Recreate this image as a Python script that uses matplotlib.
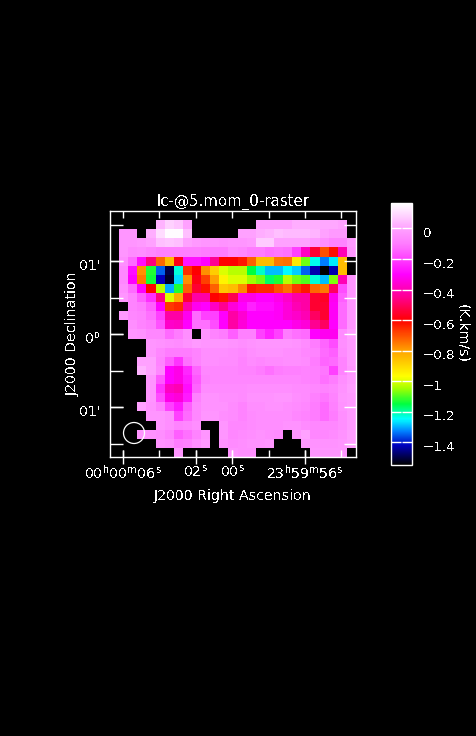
import numpy as np
import matplotlib
matplotlib.use("Agg")
import matplotlib.pyplot as plt
from matplotlib.colors import LinearSegmentedColormap
from matplotlib.patches import Ellipse
from matplotlib.transforms import ScaledTranslation

n = np.nan
row00 = [n]*27
row01 = [n,n,n,n,n,.03,.08,.06,0,n,n,n,n,n,n,n,0,0,0,0,.02,.02,.02,.01,.01,.0,n]
row02 = [n,-.03,-.03,n,.02,.1,.16,.16,.05,n,n,n,n,n,0,0,.02,.03,.05,.04,.04,.04,.03,0,-.02,-.02,n]
row03 = [n,-.03,-.03,-.02,0,.05,.06,.05,0,-.02,-.03,-.03,-.04,-.03,-.03,-.02,.07,.07,0,0,0,0,-.02,-.05,-.08,-.08,-.02]
row04 = [n,-.03,-.06,-.05,-.07,-.09,-.09,-.09,-.09,-.09,-.1,-.1,-.1,-.06,-.07,-.1,-.1,-.12,-.11,-.12,-.2,-.38,-.55,-.7,-.62,-.4,-.03]
row05 = [n,-.05,-.13,-.28,-.47,-.73,-.85,-.58,-.27,-.27,-.3,-.45,-.6,-.6,-.63,-.72,-.85,-.85,-.75,-.74,-.93,-1.08,-1.24,-1.33,-1.26,-.85,n]
row06 = [n,-.07,-.28,-.78,-1.13,-1.35,-1.5,-1.23,-.66,-.6,-.78,-.88,-1.0,-1.03,-1.03,-1.15,-1.22,-1.29,-1.29,-1.25,-1.28,-1.35,-1.43,-1.55,-1.43,-.85,n]
row07 = [n,-.07,-.3,-.75,-1.14,-1.42,-1.52,-1.27,-.78,-.58,-.68,-.8,-.95,-1.0,-1.0,-1.05,-1.08,-1.17,-1.13,-1.03,-1.08,-1.1,-1.23,-1.29,-1.07,-.4,-.03]
row08 = [n,-.05,-.13,-.3,-.6,-1.03,-1.3,-1.13,-.72,-.55,-.62,-.72,-.87,-.85,-.77,-.63,-.65,-.65,-.7,-.74,-.67,-.63,-.73,-.75,-.5,-.18,-.03]
row09 = [n,-.03,-.08,-.15,-.23,-.47,-1.0,-.82,-.55,-.42,-.42,-.6,-.62,-.52,-.33,-.33,-.3,-.3,-.33,-.37,-.42,-.42,-.55,-.56,-.32,-.15,-.03]
row10 = [n,n,-.08,-.1,-.15,-.3,-.67,-.65,-.42,-.32,-.3,-.38,-.45,-.35,-.3,-.25,-.28,-.28,-.31,-.35,-.4,-.42,-.55,-.55,-.31,-.13,-.03]
row11 = [n,-.02,-.07,-.08,-.12,-.2,-.42,-.42,-.32,-.13,-.2,-.2,-.3,-.42,-.36,-.3,-.3,-.3,-.31,-.35,-.37,-.4,-.5,-.55,-.31,-.13,-.03]
row12 = [n,n,-.05,-.08,-.1,-.17,-.37,-.38,-.3,-.12,-.12,-.18,-.3,-.42,-.35,-.3,-.3,-.3,-.3,-.3,-.33,-.35,-.45,-.5,-.3,-.13,-.03]
row13 = [n,n,-.03,-.04,-.07,-.07,-.13,-.1,-.05,n,-.03,-.08,-.1,-.15,-.09,-.09,-.2,-.25,-.2,-.1,-.12,-.13,-.3,-.32,-.32,-.06,-.01]
row14 = [n,n,n,n,-.03,-.04,-.05,-.06,-.04,-.02,-.03,-.03,-.03,-.04,-.05,-.04,-.03,-.03,-.03,-.03,-.04,-.06,-.1,-.14,-.18,-.05,-.02]
row15 = [n,n,n,n,-.03,-.07,-.1,-.1,-.1,-.08,-.05,-.05,-.05,-.06,-.07,-.05,-.04,-.04,-.04,-.05,-.05,-.07,-.08,-.13,-.15,-.06,-.02]
row16 = [n,n,n,0,0,-.08,-.15,-.22,-.12,-.08,-.05,-.05,-.06,-.06,-.08,-.06,-.07,-.06,-.06,-.05,-.05,-.06,-.1,-.14,-.13,-.08,-.02]
row17 = [n,n,n,.03,0,-.07,-.3,-.33,-.24,-.14,-.07,-.07,-.07,-.07,-.08,-.08,-.1,-.12,-.1,-.09,-.09,-.08,-.09,-.11,-.2,-.08,-.03]
row18 = [n,n,n,n,-.03,-.16,-.3,-.33,-.26,-.16,-.08,-.07,-.07,-.07,-.07,-.07,-.07,-.07,-.07,-.07,-.07,-.08,-.09,-.12,-.1,-.05,-.02]
row19 = [n,n,n,n,-.03,-.22,-.38,-.4,-.28,-.14,-.06,-.06,-.06,-.06,-.06,-.05,-.05,-.05,-.05,-.05,-.06,-.06,-.07,-.08,-.07,-.04,-.01]
row20 = [n,n,n,n,-.03,-.18,-.33,-.35,-.26,-.09,-.04,-.04,-.05,-.05,-.06,-.04,-.04,-.04,-.03,-.03,-.05,-.06,-.09,-.11,-.08,-.03,-.02]
row21 = [n,n,n,0,-.04,-.09,-.2,-.26,-.15,-.07,-.04,-.04,-.04,-.06,-.08,-.05,-.05,-.04,-.04,-.05,-.06,-.07,-.1,-.13,-.09,-.04,-.02]
row22 = [n,n,n,n,-.03,-.03,-.05,-.2,-.13,-.07,-.03,-.03,-.05,-.06,-.08,-.06,-.05,-.05,-.05,-.05,-.07,-.08,-.1,-.13,-.1,-.05,-.02]
row23 = [n,n,n,n,n,-.03,-.05,-.08,-.07,-.05,n,n,-.03,-.07,-.07,-.06,-.05,-.05,-.05,-.04,-.04,-.06,-.07,-.07,-.07,-.05,-.02]
row24 = [n,n,n,-.03,-.04,-.05,-.08,-.15,-.12,-.08,-.03,n,-.03,-.07,-.06,-.05,-.04,-.05,-.06,n,-.03,0,-.07,-.07,-.06,-.04,-.01]
row25 = [n,n,n,n,n,-.04,-.05,-.1,-.09,-.05,-.02,n,-.04,-.06,-.05,-.04,-.04,-.03,n,n,n,-.02,-.04,-.04,-.04,-.03,-.01]
row26 = [n,n,n,n,n,n,n,-.03,n,n,n,n,n,-.04,-.05,-.05,n,n,n,n,n,n,-.03,-.03,-.03,-.03,n]
rows = [row00,row01,row02,row03,row04,row05,row06,row07,row08,row09,row10,row11,row12,row13,
        row14,row15,row16,row17,row18,row19,row20,row21,row22,row23,row24,row25,row26]

cmap_values = [-1.55,-1.42,-1.33,-1.25,-1.15,-1.05,-0.97,-0.8,-0.6,-0.45,-0.3,-0.2,-0.1,0.0,0.08,0.17]
cmap_colors = ["#000000","#0000c0","#0080ff","#00ffff","#00ff40","#a0ff00","#ffff00","#ffa000","#ff0000",
               "#ff0090","#ff00ff","#ff40ff","#ff7cff","#ffa0ff","#ffd0ff","#ffffff"]
vmin, vmax = -1.55, 0.167

xtick_major = [6, 2, 0, -4]
xtick_labels = ["00$^{h}$00$^{m}$06$^{s}$", "02$^{s}$", "00$^{s}$", "23$^{h}$59$^{m}$56$^{s}$"]
xtick_all = [6, 4, 2, 0, -2, -4, -6]
ytick_all = [1.5, 1, .5, 0, -.5, -1, -1.5]
ytick_major = [1, 0, -1]
ytick_labels = ["01'", "0$^{o}$", "01'"]
cb_ticks = [0, -.2, -.4, -.6, -.8, -1, -1.2, -1.4]
cb_labels = ["0", "\u22120.2", "\u22120.4", "\u22120.6", "\u22120.8", "\u22121", "\u22121.2", "\u22121.4"]

W, H = 476, 736
plt.rcParams.update({"font.family": "DejaVu Sans", "mathtext.default": "regular",
                     "text.color": "white", "text.antialiased": False})
fig = plt.figure(figsize=(W/100, H/100), dpi=100, facecolor="black")
def axpx(l, t, r, b):
    return fig.add_axes([l/W, 1-b/H, (r-l)/W, (b-t)/H], facecolor="black")

ax = axpx(110, 211, 356, 457)
stops = [(v-vmin)/(vmax-vmin) for v in cmap_values]
stops[0], stops[-1] = 0, 1
cmap = LinearSegmentedColormap.from_list("aips", list(zip(stops, cmap_colors)), N=512)
cmap.set_bad("black")
data = np.array(rows, dtype=float)
xl, xr = 6+13/18.2, 6-(356-123)/18.2
yt, yb = 123/73, -123/73
im = ax.imshow(data, cmap=cmap, vmin=vmin, vmax=vmax, extent=[xl, xr, yb, yt], aspect="auto", interpolation="nearest")
ax.set_xlim(xl, xr); ax.set_ylim(yb, yt)
for s in ax.spines.values():
    s.set_color("white"); s.set_linewidth(1)
ax.xaxis.remove_overlapping_locs = False
ax.yaxis.remove_overlapping_locs = False
ax.set_xticks(xtick_all, [""]*len(xtick_all))
ax.set_yticks(ytick_all, [""]*len(ytick_all))
ax.tick_params(axis="x", which="major", direction="in", colors="white", width=1, length=5, top=True)
ax.tick_params(axis="y", which="major", direction="in", colors="white", width=1, length=9, right=True)
ax.set_xticks(xtick_major, xtick_labels, minor=True)
ax.set_yticks(ytick_major, ytick_labels, minor=True)
ax.tick_params(axis="x", which="minor", direction="inout", length=10, width=1, colors="white", top=False, labelsize=10.2, pad=0)
ax.tick_params(axis="y", which="minor", direction="in", length=9, width=1, colors="white", right=False, labelsize=10.2, pad=7)
off = ScaledTranslation(0, -3/100, fig.dpi_scale_trans)
for lab in ax.get_yticklabels(minor=True):
    lab.set_transform(lab.get_transform()+off)
ax.set_xlabel("J2000 Right Ascension", fontsize=10.2, color="white", labelpad=5)
ax.set_ylabel("J2000 Declination", fontsize=10.2, color="white", labelpad=-1)
ax.set_title("lc-@5.mom_0-raster", fontsize=10.8, color="white", pad=4)
ax.add_patch(Ellipse((6+(123-134)/18.2, (334-433)/73), 21/18.2, 21/73, fill=False, ec="white", lw=0.9, zorder=5))

cax = axpx(391, 203, 412, 465)
cb = fig.colorbar(im, cax=cax)
cb.outline.set_edgecolor("white"); cb.outline.set_linewidth(1)
cb.set_ticks(cb_ticks, labels=cb_labels)
cb.minorticks_off()
cax.tick_params(left=True, right=True, direction="in", length=7, width=1, color="white", labelcolor="white", labelsize=9.6, pad=8)
off2 = ScaledTranslation(0, -3.5/100, fig.dpi_scale_trans)
for lab in cax.get_yticklabels():
    lab.set_transform(lab.get_transform()+off2)
cb.set_label("(K.km/s)", color="white", fontsize=10.2, rotation=270, labelpad=10)
fig.savefig("out.png", dpi=100, facecolor="black")
